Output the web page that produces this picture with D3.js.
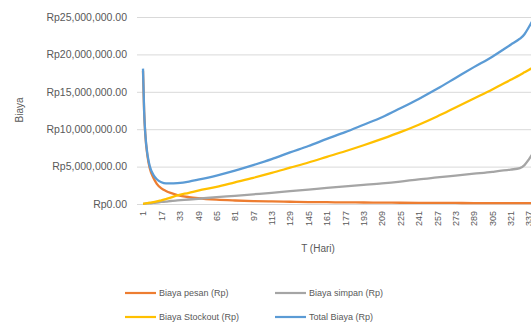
<!DOCTYPE html>
<html>
<head>
<meta charset="utf-8">
<script src="https://cdn.jsdelivr.net/npm/d3@7"></script>
<style>
  body { margin: 0; overflow: hidden; background: #fff; }
  text { font-family: "Liberation Sans", Arial, sans-serif; fill: #595959; }
</style>
</head>
<body>
<div id="grafiek"></div>
<script>
// days (category axis T)
const days = [1, 2, 3, 5, 7, 10, 13, 17, 21, 25, 31, 41, 49, 65, 81, 97, 113, 129, 145, 161, 177, 193, 209, 225, 241, 257, 273, 289, 305, 321, 329, 333, 337, 345]
// values in millions of Rp
const biayaPesan = [17.8, 12.3, 9.3, 6.3, 4.7, 3.5, 2.7, 2.1, 1.74, 1.48, 1.2, 0.92, 0.77, 0.58, 0.47, 0.39, 0.34, 0.3, 0.26, 0.24, 0.21, 0.2, 0.18, 0.17, 0.16, 0.15, 0.14, 0.13, 0.125, 0.12, 0.115, 0.115, 0.11, 0.11]
const biayaSimpan = [0.02, 0.03, 0.05, 0.08, 0.1, 0.15, 0.2, 0.27, 0.33, 0.4, 0.48, 0.6, 0.7, 0.92, 1.1, 1.3, 1.5, 1.72, 1.93, 2.15, 2.35, 2.55, 2.75, 3.0, 3.3, 3.55, 3.8, 4.05, 4.3, 4.6, 4.8, 5.2, 6.0, 8.0]
const biayaStockout = [0.02, 0.04, 0.07, 0.12, 0.17, 0.25, 0.35, 0.5, 0.65, 0.85, 1.15, 1.5, 1.8, 2.3, 2.9, 3.5, 4.15, 4.85, 5.55, 6.3, 7.05, 7.85, 8.7, 9.6, 10.6, 11.7, 12.9, 14.1, 15.3, 16.6, 17.25, 17.6, 17.95, 18.7]
const totalBiaya = [18.1, 12.4, 9.4, 6.5, 5.0, 3.9, 3.3, 2.9, 2.75, 2.75, 2.8, 3.0, 3.25, 3.8, 4.45, 5.2, 6.0, 6.9, 7.75, 8.7, 9.6, 10.6, 11.6, 12.8, 14.05, 15.4, 16.85, 18.3, 19.7, 21.3, 22.1, 22.7, 23.7, 26.0]

const xTicks = [1, 17, 33, 49, 65, 81, 97, 113, 129, 145, 161, 177, 193, 209, 225, 241, 257, 273, 289, 305, 321, 337, 353]
const yTicks = [0, 5, 10, 15, 20, 25]

const seriesNames = ['Biaya pesan (Rp)', 'Biaya simpan (Rp)', 'Biaya Stockout (Rp)', 'Total Biaya (Rp)']
const seriesColors = ['#ED7D31', '#A5A5A5', '#FFC000', '#5B9BD5']
const seriesData = [biayaPesan, biayaSimpan, biayaStockout, totalBiaya]

/**
 * position plot
 */
const MARGIN = {top: 17, left: 137}
const PLOT_W = 440
const PLOT_H = 187

const SVG = d3.select('#grafiek')
  .append('svg')
    .attr('width', 620)
    .attr('height', 325)

const x = d3.scaleLinear()
  .domain([1, 365])
  .range([143 - MARGIN.left, 143 - MARGIN.left + 364 * 1.149])

const y = d3.scaleLinear()
  .domain([0, 25])
  .range([PLOT_H, 0])

const G = SVG.append('g')
  .attr('transform', `translate(${MARGIN.left}, ${MARGIN.top})`)

SVG.append('defs').append('clipPath').attr('id', 'plotclip')
  .append('rect').attr('x', 0).attr('y', -1).attr('width', PLOT_W).attr('height', PLOT_H + 3)

// gridlines
G.append('g')
  .call(d3.axisLeft(y).tickValues(yTicks).tickSize(-PLOT_W).tickFormat(''))
  .call(g => g.select('.domain').remove())
  .selectAll('line').attr('stroke', '#D9D9D9').attr('stroke-width', 1)

// y labels
G.append('g')
  .call(d3.axisLeft(y).tickValues(yTicks).tickSize(0).tickPadding(10)
    .tickFormat(d => 'Rp' + d3.format(',.2f')(d * 1000000)))
  .call(g => g.select('.domain').remove())
  .selectAll('text').style('font-size', '10.5px').attr('fill', '#595959')

// x axis
G.append('g')
  .attr('transform', `translate(0, ${PLOT_H})`)
  .call(d3.axisBottom(x).tickValues(xTicks).tickSize(0).tickFormat(d3.format('d')))
  .call(g => g.select('.domain').attr('stroke', '#D9D9D9'))
  .selectAll('text')
    .attr('transform', 'rotate(-90)')
    .attr('x', -7)
    .attr('y', 0)
    .attr('dy', '0.32em')
    .style('text-anchor', 'end')
    .style('font-size', '9px')
    .attr('fill', '#595959')

// lines
const line = d3.line()
  .x(d => x(d[0]))
  .y(d => y(d[1]))
  .curve(d3.curveMonotoneX)

const LINES = G.append('g').attr('clip-path', 'url(#plotclip)')
seriesData.forEach((vals, i) => {
  LINES.append('path')
    .datum(days.map((d, j) => [d, vals[j]]))
    .attr('fill', 'none')
    .attr('stroke', seriesColors[i])
    .attr('stroke-width', 2.3)
    .attr('stroke-linejoin', 'round')
    .attr('d', line)
})

// axis titles
SVG.append('text')
  .attr('x', 318).attr('y', 252)
  .attr('text-anchor', 'middle')
  .style('font-size', '10px')
  .text('T (Hari)')

SVG.append('text')
  .attr('transform', 'translate(23, 110) rotate(-90)')
  .attr('text-anchor', 'middle')
  .style('font-size', '10px')
  .text('Biaya')

// legend
const legendPos = [[125, 293], [275, 293], [125, 317], [275, 317]]
const LEGEND = SVG.append('g')
seriesNames.forEach((name, i) => {
  const [lx, ly] = legendPos[i]
  LEGEND.append('line')
    .attr('x1', lx).attr('x2', lx + 31)
    .attr('y1', ly).attr('y2', ly)
    .attr('stroke', seriesColors[i])
    .attr('stroke-width', 2.2)
  LEGEND.append('text')
    .attr('x', lx + 34).attr('y', ly)
    .attr('dy', '0.35em')
    .style('font-size', '9px')
    .text(name)
})
</script>
</body>
</html>
